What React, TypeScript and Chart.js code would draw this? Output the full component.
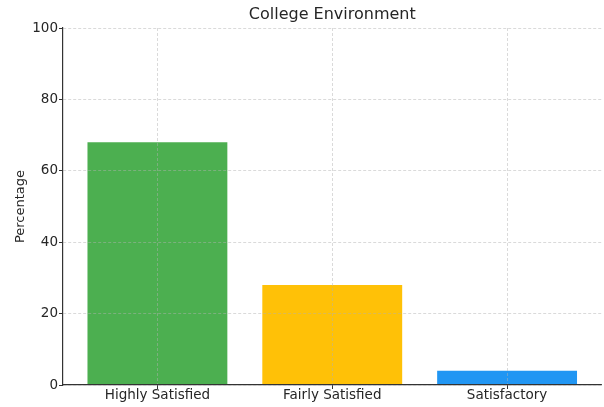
import { useEffect, useRef } from "react";
import { Chart, registerables } from "chart.js";

Chart.register(...registerables);

const categories = ["Highly Satisfied", "Fairly Satisfied", "Satisfactory"];
const percentages = [68, 28, 4];
const barColors = ["#4CAF50", "#FFC107", "#2196F3"];
const yTicks = [0, 20, 40, 60, 80, 100];
const chartTitle = "College Environment";
const yAxisTitle = "Percentage";

const FONT = "'DejaVu Sans', sans-serif";
const TEXT = "#262626";
const GRID = "rgba(176,176,176,0.6)";

export default function App() {
  const ref = useRef<HTMLCanvasElement | null>(null);

  useEffect(() => {
    document.body.style.margin = "0";
    const canvas = ref.current;
    if (!canvas) return;

    const titlePlugin = {
      id: "axesTitle",
      afterDraw(chart: any) {
        const { ctx, chartArea } = chart;
        ctx.save();
        ctx.font = `16px ${FONT}`;
        ctx.fillStyle = TEXT;
        ctx.textAlign = "center";
        ctx.textBaseline = "middle";
        ctx.fillText(chartTitle, (chartArea.left + chartArea.right) / 2, 15);
        ctx.restore();
      },
    };

    const n = categories.length;
    const chart = new Chart(canvas, {
      type: "bar",
      data: {
        datasets: [
          {
            data: percentages.map((v, i) => ({ x: i, y: v })),
            backgroundColor: barColors,
            borderWidth: 0,
            categoryPercentage: 1,
            barPercentage: 0.8,
          },
        ],
      },
      options: {
        responsive: false,
        animation: false,
        events: [],
        layout: { padding: { top: 28, right: 2.5, left: 0, bottom: 0 } },
        plugins: {
          legend: { display: false },
          tooltip: { enabled: false },
          title: { display: false },
        },
        scales: {
          x: {
            type: "linear",
            offset: false,
            min: -0.54,
            max: n - 1 + 0.54,
            afterBuildTicks: (scale: any) => {
              scale.ticks = categories.map((_, i) => ({ value: i }));
            },
            afterFit: (scale: any) => {
              scale.height = 22;
            },
            ticks: {
              color: TEXT,
              font: { family: FONT, size: 13.5, lineHeight: 1 },
              padding: 0,
              maxRotation: 0,
              autoSkip: false,
              callback: (v: any) => categories[Math.round(Number(v))] ?? "",
            },
            grid: {
              z: 1,
              offset: false,
              color: GRID,
              lineWidth: 0.8,
              tickColor: "#333333",
              tickLength: 4,
              tickWidth: 1,
              drawTicks: true,
            },
            border: { display: true, z: 1, color: "#333333", width: 1.2, dash: [3, 2] },
          },
          y: {
            min: 0,
            max: 100,
            afterBuildTicks: (scale: any) => {
              scale.ticks = yTicks.map((v) => ({ value: v }));
            },
            afterFit: (scale: any) => {
              scale.width = 63;
            },
            ticks: {
              color: TEXT,
              font: { family: FONT, size: 13.5 },
              padding: 1,
            },
            title: {
              display: true,
              text: yAxisTitle,
              color: TEXT,
              font: { family: FONT, size: 13, lineHeight: 1.2 },
              padding: { top: 13, bottom: 0 },
            },
            grid: {
              z: 1,
              color: GRID,
              lineWidth: 0.8,
              tickColor: "#333333",
              tickLength: 4,
              tickWidth: 1,
            },
            border: { display: true, z: 1, color: "#333333", width: 1.2, dash: [3, 2] },
          },
        },
      },
      plugins: [titlePlugin],
    } as any);

    return () => chart.destroy();
  }, []);

  return (
    <div style={{ width: 604, height: 407 }}>
      <canvas ref={ref} width={604} height={407} style={{ display: "block" }} />
    </div>
  );
}
